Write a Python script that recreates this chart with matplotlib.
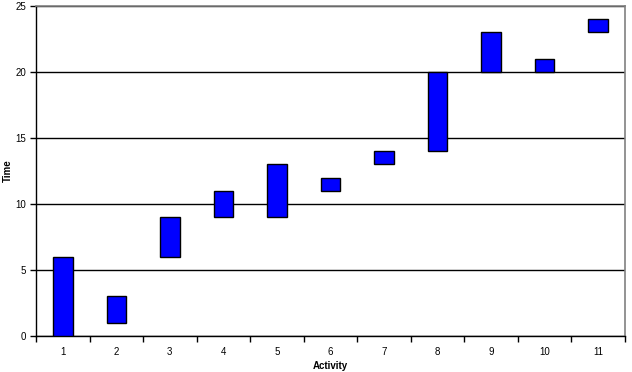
import matplotlib
matplotlib.use("Agg")
import matplotlib.pyplot as plt
import numpy as np

activities = ["1", "2", "3", "4", "5", "6", "7", "8", "9", "10", "11"]
start_times = [0, 1, 6, 9, 9, 11, 13, 14, 20, 20, 23]
end_times = [6, 3, 9, 11, 13, 12, 14, 20, 23, 21, 24]
y_ticks = [0, 5, 10, 15, 20, 25]

plt.rcParams['font.family'] = ['Liberation Sans', 'DejaVu Sans']

fig = plt.figure(figsize=(6.32, 3.72), dpi=100)
ax = fig.add_axes([36/632, 36/372, 589/632, 330/372])

x = np.arange(len(activities))
durations = np.array(end_times) - np.array(start_times)
ax.bar(x, durations, bottom=start_times, width=0.365, color="#0000FF",
       edgecolor="black", linewidth=1.0, zorder=3)

ax.set_xlim(-0.5, len(activities) - 0.5)
ax.set_ylim(0, 25)
ax.set_yticks(y_ticks)
ax.set_yticklabels([str(v) for v in y_ticks], fontsize=7)
ax.yaxis.grid(True, color="black", linewidth=1.0, zorder=1)
ax.set_axisbelow(True)

ax.set_xticks(x)
ax.set_xticklabels(activities, fontsize=7)
ax.set_xticks(np.arange(-0.5, len(activities)), minor=True)
ax.tick_params(axis='x', which='major', length=0, pad=8)
ax.tick_params(axis='x', which='minor', length=4, direction='out', width=1)
ax.tick_params(axis='y', which='major', length=4, direction='out', width=1, pad=3)

for side in ['top', 'right']:
    ax.spines[side].set_color('#808080')
    ax.spines[side].set_linewidth(1.2)
for side in ['left', 'bottom']:
    ax.spines[side].set_color('black')
    ax.spines[side].set_linewidth(1.0)

ax.set_xlabel("Activity", fontsize=7, fontweight='bold', labelpad=3)
fig.text(8/632, 1 - 171/372, "Time", fontsize=7, fontweight='bold',
         rotation=90, ha='center', va='center')

fig.savefig("out.png", dpi=100)
